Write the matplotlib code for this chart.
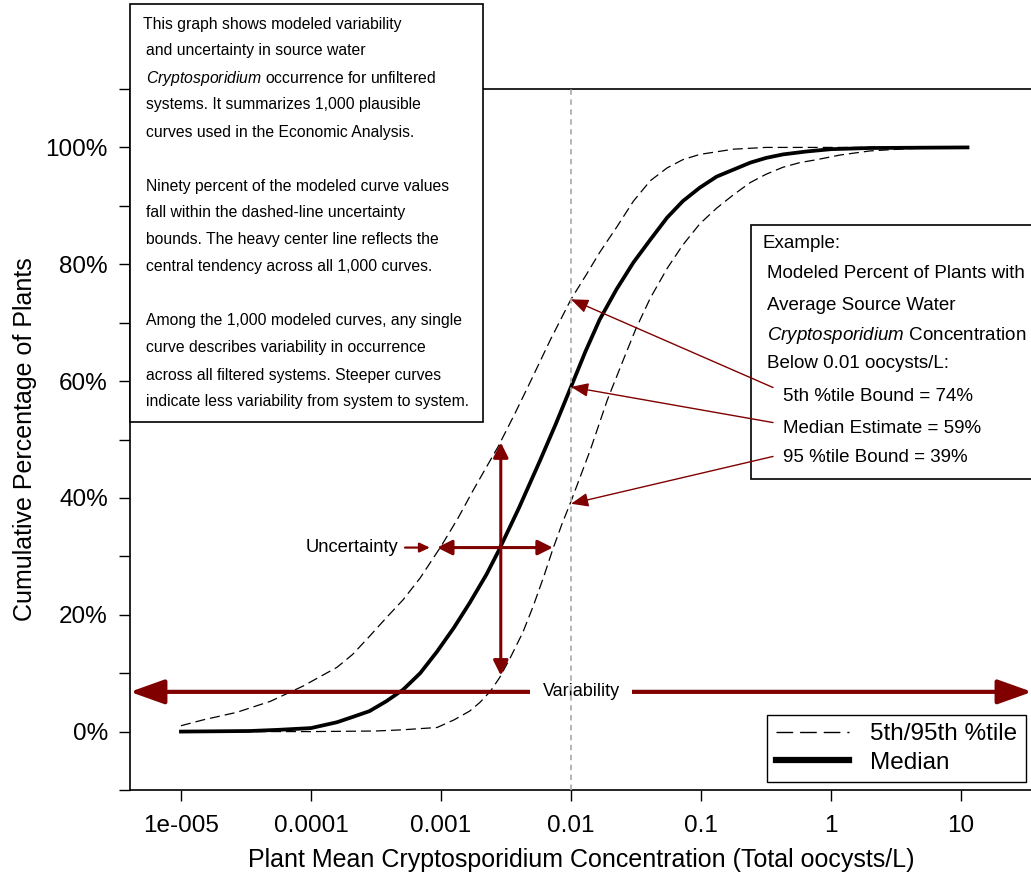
import numpy as np
import matplotlib
matplotlib.use("Agg")
import matplotlib.pyplot as plt
from matplotlib.patches import Rectangle
from matplotlib.lines import Line2D
from matplotlib.ticker import NullLocator

plt.rcParams['font.family'] = ['Liberation Sans', 'DejaVu Sans']
plt.rcParams['mathtext.fontset'] = 'custom'
plt.rcParams['mathtext.it'] = 'Liberation Sans:italic'
plt.rcParams['mathtext.rm'] = 'Liberation Sans'

# data (log10 of concentration, cumulative %)
median_logx = [-5.0, -4.47, -4.25, -4.0, -3.8, -3.68, -3.55, -3.42, -3.29, -3.16,
               -3.03, -2.9, -2.78, -2.65, -2.56, -2.4, -2.24, -2.12, -2.0, -1.89,
               -1.78, -1.65, -1.52, -1.39, -1.26, -1.14, -1.01, -0.88, -0.75, -0.62,
               -0.5, -0.37, -0.19, 0.0, 0.3, 1.05]
median_pct = [0.0, 0.1, 0.3, 0.6, 1.6, 2.5, 3.5, 5.2, 7.2, 10.0,
              13.7, 17.8, 22.0, 26.9, 30.8, 38.3, 46.3, 52.5, 59.0, 65.0,
              70.5, 75.7, 80.3, 84.2, 88.0, 90.8, 93.1, 95.0, 96.2, 97.4,
              98.2, 98.8, 99.3, 99.7, 99.9, 100.0]

p5_logx = [-5.0, -4.83, -4.57, -4.31, -4.06, -3.8, -3.68, -3.55, -3.42, -3.29,
           -3.16, -3.0, -2.87, -2.75, -2.56, -2.43, -2.31, -2.16, -2.0, -1.88,
           -1.78, -1.72, -1.65, -1.52, -1.39, -1.26, -1.14, -1.01, -0.75, -0.5, 1.05]
p5_pct = [1.0, 2.0, 3.3, 5.2, 7.8, 11.0, 13.2, 16.3, 19.5, 22.6,
          26.3, 31.7, 36.5, 41.4, 48.8, 54.5, 60.0, 67.0, 74.0, 78.3,
          82.0, 84.0, 86.3, 90.8, 94.3, 96.5, 97.9, 98.8, 99.7, 100.0, 100.0]

p95_logx = [-5.0, -4.0, -3.5, -3.3, -3.03, -2.9, -2.78, -2.7, -2.62, -2.55,
            -2.47, -2.37, -2.29, -2.21, -2.14, -2.07, -2.0, -1.85, -1.72, -1.6,
            -1.5, -1.39, -1.26, -1.14, -1.01, -0.88, -0.75, -0.62, -0.5, -0.37,
            -0.24, -0.11, 0.07, 0.3, 0.6, 1.05]
p95_pct = [0.0, 0.0, 0.1, 0.3, 0.7, 2.0, 3.5, 5.0, 6.9, 9.2,
           12.5, 17.0, 21.5, 26.5, 31.2, 35.5, 39.4, 48.3, 56.8, 63.5,
           69.0, 74.2, 79.3, 83.3, 86.9, 89.6, 91.9, 94.0, 95.4, 96.6,
           97.4, 97.9, 98.7, 99.4, 99.8, 100.0]

ref_conc = 0.01
ref_values = [74, 59, 39]          # 5th, median, 95th at 0.01
ref_labels = ["5th %tile Bound = 74%", "Median Estimate = 59%", "95 %tile Bound = 39%"]

xtick_vals = [1e-5, 1e-4, 1e-3, 1e-2, 1e-1, 1, 10]
xtick_labels = ["1e-005", "0.0001", "0.001", "0.01", "0.1", "1", "10"]
ytick_vals = list(range(-10, 111, 10))
ytick_labels = [f"{v}%" if v % 20 == 0 and 0 <= v <= 100 else "" for v in ytick_vals]

# uncertainty cross and variability arrow
unc_x = 10 ** -2.54
unc_y = 31.5
unc_low, unc_high = 9.6, 49.5
unc_left, unc_right = 10 ** -3.03, 10 ** -2.14
var_y = 6.8

info_lines = [
    "This graph shows modeled variability",
    "and uncertainty in source water",
    r"$\mathit{Cryptosporidium}$ occurrence for unfiltered",
    "systems. It summarizes 1,000 plausible",
    "curves used in the Economic Analysis.",
    "",
    "Ninety percent of the modeled curve values",
    "fall within the dashed-line uncertainty",
    "bounds. The heavy center line reflects the",
    "central tendency across all 1,000 curves.",
    "",
    "Among the 1,000 modeled curves, any single",
    "curve describes variability in occurrence",
    "across all filtered systems. Steeper curves",
    "indicate less variability from system to system.",
]
example_lines = [
    "Example:",
    "Modeled Percent of Plants with",
    "Average Source Water",
    r"$\mathit{Cryptosporidium}$ Concentration",
    "Below 0.01 oocysts/L:",
]

W, H = 1031, 884
RED = '#800000'


def fx(x):
    return x / W


def fy(y):
    return 1 - y / H


fig = plt.figure(figsize=(W / 100, H / 100), dpi=100)
ax = fig.add_axes([fx(130), fy(790), (1032 - 130) / W, (790 - 89) / H])

ax.plot(10 ** np.array(p5_logx), p5_pct, color='black', lw=0.9, dashes=(8, 4), zorder=2)
ax.plot(10 ** np.array(p95_logx), p95_pct, color='black', lw=0.9, dashes=(8, 4), zorder=2)
ax.plot(10 ** np.array(median_logx), median_pct, color='black', lw=2.7, zorder=2)

ax.set_xscale('log')
ax.set_xlim(10 ** -5.392, 10 ** 1.546)
ax.set_ylim(-10, 110)
ax.set_xticks(xtick_vals)
ax.set_xticklabels(xtick_labels)
ax.xaxis.set_minor_locator(NullLocator())
ax.set_yticks(ytick_vals)
ax.set_yticklabels(ytick_labels)
ax.tick_params(axis='both', direction='out', length=8, width=1, labelsize=17.5, pad=8)
ax.tick_params(axis='x', pad=10)
for s in ax.spines.values():
    s.set_linewidth(1.2)

ax.set_xlabel("Plant Mean Cryptosporidium Concentration (Total oocysts/L)", fontsize=18, labelpad=8)
ax.set_ylabel("Cumulative Percentage of Plants", fontsize=18, labelpad=6)

# reference line at 0.01
ax.axvline(ref_conc, color='#b0b0b0', lw=1.3, dashes=(3, 2.5), zorder=4)

# variability arrow
ax.annotate('', xy=(1, var_y), xytext=(0, var_y),
            xycoords=('axes fraction', 'data'), textcoords=('axes fraction', 'data'),
            arrowprops=dict(arrowstyle='<|-|>,head_length=21,head_width=7.5',
                            color=RED, lw=3, shrinkA=0, shrinkB=0, mutation_scale=1),
            annotation_clip=False, zorder=3)
ax.text(0.5, var_y, "Variability", transform=ax.get_yaxis_transform(),
        ha='center', va='center', fontsize=13, zorder=3.5,
        bbox=dict(boxstyle='square,pad=0.7', fc='white', ec='none'))

# uncertainty cross
cross = dict(arrowstyle='<|-|>,head_length=9,head_width=4.5', color=RED, lw=2.2,
             shrinkA=0, shrinkB=0, mutation_scale=1)
ax.annotate('', xy=(unc_x, unc_high), xytext=(unc_x, unc_low), arrowprops=cross, zorder=3)
ax.annotate('', xy=(unc_right, unc_y), xytext=(unc_left, unc_y), arrowprops=cross, zorder=3)
ax.annotate("Uncertainty", xy=(10 ** -3.085, unc_y), xytext=(10 ** -3.33, unc_y),
            ha='right', va='center', fontsize=13.2,
            arrowprops=dict(arrowstyle='-|>,head_length=6,head_width=2.8', color=RED, lw=1.6,
                            shrinkA=3, shrinkB=0, mutation_scale=1), zorder=3)

# top-left info box
ax.add_patch(Rectangle((fx(130), fy(422)), fx(483) - fx(130), fy(4) - fy(422),
                       transform=fig.transFigure, fc='white', ec='black', lw=1.2,
                       clip_on=False, zorder=6))
for i, line in enumerate(info_lines):
    if not line:
        continue
    x0 = 143 if i == 0 else 146
    ax.text(fx(x0), fy(24 + 27 * i), line, transform=fig.transFigure,
            ha='left', va='center', fontsize=11.35, zorder=7)

# example box
ax.add_patch(Rectangle((fx(751), fy(479)), fx(1040) - fx(751), fy(225) - fy(479),
                       transform=fig.transFigure, fc='white', ec='black', lw=1.2,
                       clip_on=False, zorder=6))
ex_y = [243, 274, 305, 335, 363]
for i, line in enumerate(example_lines):
    x0 = 763 if i == 0 else 767
    ax.text(fx(x0), fy(ex_y[i]), line, transform=fig.transFigure,
            ha='left', va='center', fontsize=13.5, zorder=7)
lab_y = [397, 428, 457]
start_y = [58.9, 52.9, 47.1]
for v, lab, ly, sy in zip(ref_values, ref_labels, lab_y, start_y):
    ax.text(fx(783), fy(ly), lab, transform=fig.transFigure,
            ha='left', va='center', fontsize=13.5, zorder=7)
    ax.annotate('', xy=(ref_conc, v), xytext=(10 ** -0.446, sy),
                arrowprops=dict(arrowstyle='-|>,head_length=10.5,head_width=4.2', color=RED,
                                lw=1.0, shrinkA=0, shrinkB=0, mutation_scale=1),
                zorder=8)

# legend
handles = [Line2D([], [], color='black', lw=1.0, dashes=(12, 5)),
           Line2D([], [], color='black', lw=4.5)]
leg = ax.legend(handles, ["5th/95th %tile", "Median"], loc='lower right',
                bbox_to_anchor=(0.9934, 0.0114), borderaxespad=0, fontsize=17.5,
                handlelength=3.0, handletextpad=0.9, labelspacing=0.25,
                borderpad=0.35, fancybox=False, framealpha=1)
leg.get_frame().set_edgecolor('black')
leg.get_frame().set_linewidth(1.0)
leg.set_zorder(9)

fig.savefig("out.png", dpi=100)
